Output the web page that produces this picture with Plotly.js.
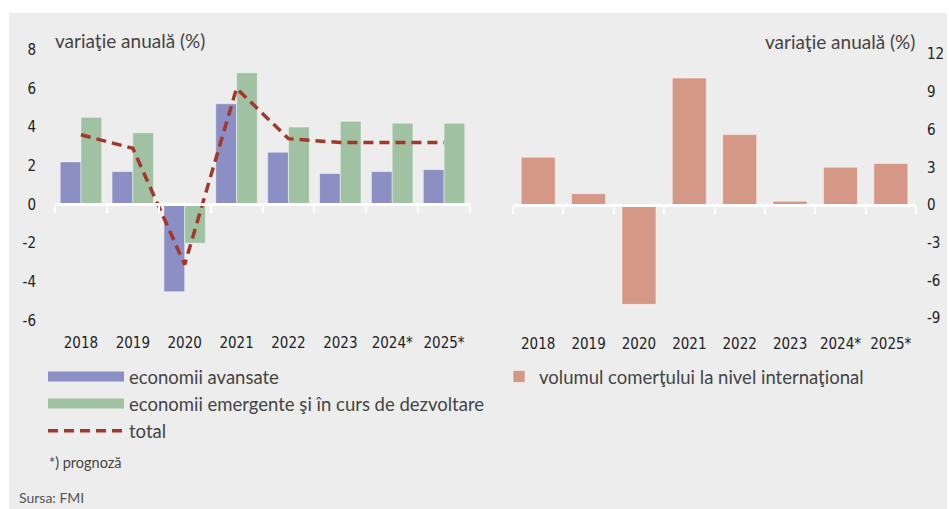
<!DOCTYPE html>
<html><head><meta charset="utf-8">
<script src="https://cdn.plot.ly/plotly-3.0.1.min.js"></script>
<style>html,body{margin:0;padding:0;background:#fff;}#chart{width:949px;height:509px;}</style>
</head><body><div id="chart"></div>
<script>
const years = ['2018','2019','2020','2021','2022','2023','2024*','2025*'];
const advanced = [2.2, 1.7, -4.5, 5.2, 2.7, 1.6, 1.7, 1.8];
const emerging = [4.5, 3.7, -2.0, 6.8, 4.0, 4.3, 4.2, 4.2];
const total = [3.6, 2.9, -3.1, 6.0, 3.4, 3.2, 3.2, 3.2];
const trade = [3.8, 0.9, -7.9, 10.1, 5.6, 0.3, 3.0, 3.3];
const leftTicks = [-6, -4, -2, 0, 2, 4, 6, 8];
const rightTicks = [-9, -6, -3, 0, 3, 6, 9, 12];

const W = 949, H = 509;
const px = v => v / W;
const py = v => 1 - v / H;
const yDom = [py(330), py(30)];
const leftRange = [-6.48, 9.01];
const rightRange = [-9.94, 13.92];
const zeroPos = r => yDom[0] + (0 - r[0]) / (r[1] - r[0]) * (yDom[1] - yDom[0]);

const tickFont = {family: 'DejaVu Sans Condensed, Liberation Sans Narrow, sans-serif', size: 15, color: '#222'};
const textFont = {family: 'Lato, Open Sans, sans-serif', size: 19, color: '#444'};
const legendFont = {family: 'Lato, Open Sans, sans-serif', size: 18.5, color: '#444'};

const cBlue = '#8b8fc3', cGreen = '#a0c1a2', cRed = '#a3372a', cSalmon = '#d59886';
const edge = {color: 'rgba(255,255,255,0.45)', width: 1};

const traces = [
  {type: 'bar', x: years, y: advanced, xaxis: 'x', yaxis: 'y', width: 0.4, offset: -0.4,
   marker: {color: cBlue, line: edge}, showlegend: false, legendgroup: 'a', hoverinfo: 'x+y'},
  {type: 'bar', x: years, y: emerging, xaxis: 'x', yaxis: 'y', width: 0.4, offset: 0,
   marker: {color: cGreen, line: edge}, showlegend: false, legendgroup: 'e', hoverinfo: 'x+y'},
  {type: 'scatter', mode: 'lines', x: years, y: total, xaxis: 'x', yaxis: 'y',
   line: {color: cRed, width: 3.5, dash: '10px,6px'}, name: 'total', legend: 'legend', legendrank: 3, legendgroup: 't'},
  {type: 'bar', x: years, y: trade, xaxis: 'x2', yaxis: 'y2', width: 0.675,
   marker: {color: cSalmon, line: edge}, name: 'volumul comerţului la nivel internaţional', legend: 'legend2'},
  {type: 'scatter', mode: 'lines', x: [null], y: [null], xaxis: 'x', yaxis: 'y',
   line: {color: cBlue, width: 11}, name: 'economii avansate', legend: 'legend', legendrank: 1, legendgroup: 'a', hoverinfo: 'skip'},
  {type: 'scatter', mode: 'lines', x: [null], y: [null], xaxis: 'x', yaxis: 'y',
   line: {color: cGreen, width: 11}, name: 'economii emergente şi în curs de dezvoltare', legend: 'legend', legendrank: 2, legendgroup: 'e', hoverinfo: 'skip'}
];

const xCommon = {
  type: 'category', categoryorder: 'array', categoryarray: years,
  anchor: 'free', showline: true, linecolor: '#ffffff', linewidth: 2.5,
  ticks: 'outside', tickson: 'boundaries', ticklen: 7, tickwidth: 2, tickcolor: '#ffffff',
  tickfont: tickFont, tickangle: 0, ticklabelstandoff: 124, showgrid: false, zeroline: false, fixedrange: true
};

const layout = {
  width: W, height: H,
  margin: {l: 0, r: 0, t: 0, b: 0},
  paper_bgcolor: '#ffffff', plot_bgcolor: 'rgba(0,0,0,0)',
  showlegend: true, barmode: 'group',
  xaxis: Object.assign({}, xCommon, {domain: [px(55), px(470)], position: zeroPos(leftRange), range: [-0.5, 7.5]}),
  xaxis2: Object.assign({}, xCommon, {domain: [px(513), px(916)], position: zeroPos(rightRange), range: [-0.5, 7.5]}),
  yaxis: {domain: yDom, range: leftRange, anchor: 'x', tickvals: leftTicks, ticktext: leftTicks.map(String), ticks: '', showgrid: false,
          zeroline: false, showline: false, tickfont: tickFont, ticklabelstandoff: 18, fixedrange: true},
  yaxis2: {domain: yDom, range: rightRange, anchor: 'x2', side: 'right', tickvals: rightTicks, ticktext: rightTicks.map(String), ticks: '', showgrid: false,
           zeroline: false, showline: false, tickfont: tickFont, ticklabelstandoff: 10, fixedrange: true},
  legend: {x: px(43), y: py(358), xanchor: 'left', yanchor: 'top', bgcolor: 'rgba(0,0,0,0)', itemwidth: 76,
           font: legendFont, traceorder: 'normal', tracegroupgap: 0, itemclick: false, itemdoubleclick: false},
  legend2: {x: px(499), y: py(358), xanchor: 'left', yanchor: 'top', bgcolor: 'rgba(0,0,0,0)', itemwidth: 30,
            font: legendFont, itemclick: false, itemdoubleclick: false},
  shapes: [
    {type: 'rect', xref: 'paper', yref: 'paper', x0: px(9), x1: px(947), y0: 0, y1: py(13),
     fillcolor: '#ededed', line: {width: 0}, layer: 'below'}
  ],
  annotations: [
    {xref: 'paper', yref: 'paper', x: px(53), y: py(40), xanchor: 'left', yanchor: 'middle',
     text: 'variaţie anuală (%)', showarrow: false, font: textFont},
    {xref: 'paper', yref: 'paper', x: px(917), y: py(42), xanchor: 'right', yanchor: 'middle',
     text: 'variaţie anuală (%)', showarrow: false, font: textFont},
    {xref: 'paper', yref: 'paper', x: px(47), y: py(462), xanchor: 'left', yanchor: 'middle',
     text: '*) prognoză', showarrow: false, font: Object.assign({}, textFont, {size: 14.5})},
    {xref: 'paper', yref: 'paper', x: px(17), y: py(497), xanchor: 'left', yanchor: 'middle',
     text: 'Sursa: FMI', showarrow: false, font: Object.assign({}, textFont, {size: 14, color: '#555'})}
  ]
};

Plotly.newPlot('chart', traces, layout, {displayModeBar: false, responsive: false});
</script>
</body></html>
